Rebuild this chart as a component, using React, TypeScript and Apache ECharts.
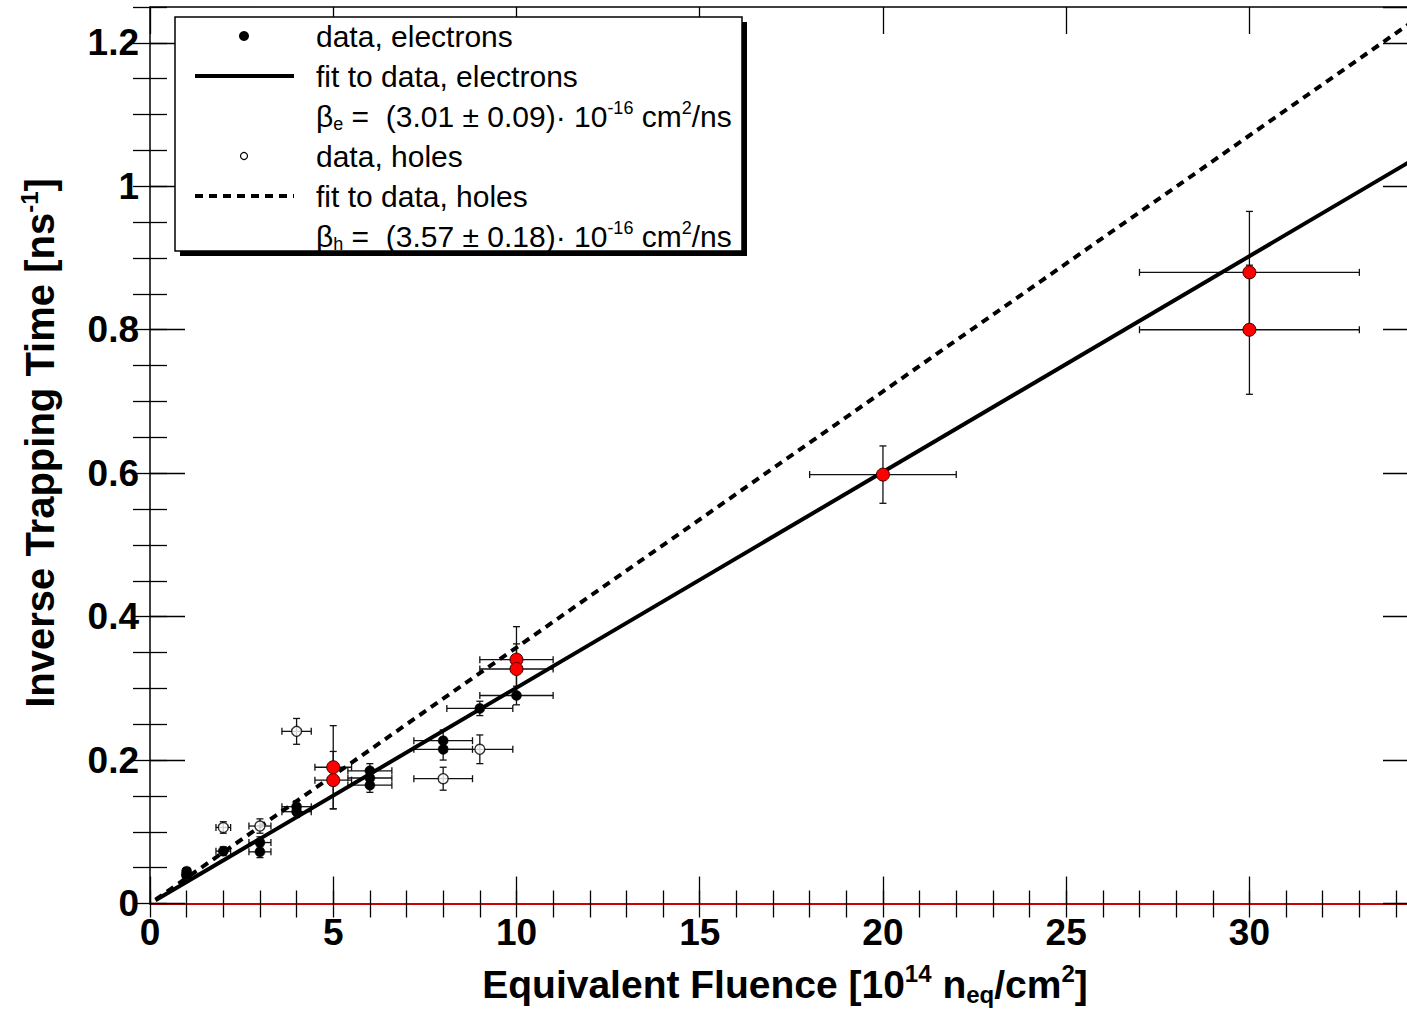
import React, { useEffect, useRef } from "react";
import * as echarts from "echarts";

// ---- data ----
// electrons (filled black)
const elecX = [1, 1, 2, 3, 3, 4, 4, 6, 6, 6, 8, 8, 9, 10];
const elecY = [0.045, 0.04, 0.073, 0.085, 0.072, 0.135, 0.128, 0.185, 0.175, 0.165, 0.227, 0.215, 0.272, 0.29];
const elecEx = [0.1, 0.1, 0.2, 0.3, 0.3, 0.4, 0.4, 0.6, 0.6, 0.6, 0.8, 0.8, 0.9, 1.0];
const elecEy = [0.005, 0.005, 0.006, 0.008, 0.008, 0.008, 0.008, 0.01, 0.01, 0.01, 0.015, 0.015, 0.01, 0.013];
// holes (open circles)
const holeX = [1, 2, 3, 4, 8, 9];
const holeY = [0.04, 0.106, 0.108, 0.24, 0.174, 0.215];
const holeEx = [0.1, 0.2, 0.3, 0.4, 0.8, 0.9];
const holeEy = [0.005, 0.008, 0.01, 0.018, 0.016, 0.02];
// red points
const redX = [5, 5, 10, 10, 20, 30, 30];
const redY = [0.19, 0.172, 0.34, 0.327, 0.598, 0.88, 0.8];
const redEx = [0.5, 0.5, 1, 1, 2, 3, 3];
const redEy = [0.058, 0.04, 0.046, 0.035, 0.04, 0.085, 0.09];
// fit lines (end points)
const fitElecX = [0.15, 34.6];
const fitElecY = [0.0045, 1.041];
const fitHoleX = [0.15, 34.6];
const fitHoleY = [0.0054, 1.235];

const X_MIN = 0;
const X_MAX = 34.6;
const Y_MIN = 0;
const Y_MAX = 1.25;

const FONT = "'Liberation Sans', Arial, Helvetica, sans-serif";

function pairs(xs: number[], ys: number[]) {
  return xs.map((x, i) => [x, ys[i]]);
}

function errorBars(xs: number[], ys: number[], exs: number[], eys: number[]) {
  return {
    type: "custom",
    xAxisIndex: 0,
    yAxisIndex: 0,
    z: 2,
    silent: true,
    clip: false,
    encode: { x: 0, y: 1 },
    data: xs.map((x, i) => [x, ys[i], exs[i], eys[i]]),
    renderItem: (params: any, api: any) => {
      const x = api.value(0);
      const y = api.value(1);
      const ex = api.value(2);
      const ey = api.value(3);
      const c = api.coord([x, y]);
      const l = api.coord([x - ex, y]);
      const r = api.coord([x + ex, y]);
      const t = api.coord([x, y + ey]);
      const b = api.coord([x, y - ey]);
      const cap = 3.5;
      const style = { stroke: "#111", lineWidth: 1.3 };
      return {
        type: "group",
        children: [
          { type: "line", shape: { x1: l[0], y1: c[1], x2: r[0], y2: c[1] }, style },
          { type: "line", shape: { x1: l[0], y1: c[1] - cap, x2: l[0], y2: c[1] + cap }, style },
          { type: "line", shape: { x1: r[0], y1: c[1] - cap, x2: r[0], y2: c[1] + cap }, style },
          { type: "line", shape: { x1: c[0], y1: t[1], x2: c[0], y2: b[1] }, style },
          { type: "line", shape: { x1: c[0] - cap, y1: t[1], x2: c[0] + cap, y2: t[1] }, style },
          { type: "line", shape: { x1: c[0] - cap, y1: b[1], x2: c[0] + cap, y2: b[1] }, style },
        ],
      };
    },
  };
}

const isMult = (v: number, step: number) => Math.abs(v / step - Math.round(v / step)) < 1e-6;

export default function App() {
  const ref = useRef<HTMLDivElement>(null);

  useEffect(() => {
    if (!ref.current) return;
    const chart = echarts.init(ref.current, null, { renderer: "svg" });

    const gridRect = { left: 150, top: 7, width: 1268, height: 896.5 };
    const tickStyle = { color: "#000", width: 1.3 };
    const frame = { show: true, onZero: false, lineStyle: { color: "#000", width: 1.5 } };
    const labelStyle = { fontFamily: FONT, fontWeight: "bold" as const, fontSize: 37, color: "#000" };

    const xBase = { type: "value", min: X_MIN, max: X_MAX, splitLine: { show: false } };
    const yBase = { type: "value", min: Y_MIN, max: Y_MAX, splitLine: { show: false } };

    const rich = {
      n: { fontFamily: FONT, fontSize: 30, color: "#000" },
      sup: { fontFamily: FONT, fontSize: 18, color: "#000", padding: [0, 0, 17, 0] },
      sub: { fontFamily: FONT, fontSize: 18, color: "#000", padding: [15, 0, 0, 0] },
    };
    const richX = {
      n: { fontFamily: FONT, fontSize: 39, fontWeight: "bold", color: "#000" },
      sup: { fontFamily: FONT, fontSize: 24, fontWeight: "bold", color: "#000", padding: [0, 0, 22, 0] },
      sub: { fontFamily: FONT, fontSize: 24, fontWeight: "bold", color: "#000", padding: [20, 0, 0, 0] },
    };
    const richY = {
      n: { fontFamily: FONT, fontSize: 40, fontWeight: "bold", color: "#000" },
      sup: { fontFamily: FONT, fontSize: 24, fontWeight: "bold", color: "#000", padding: [0, 0, 22, 0] },
    };

    const legendTextX = 316;
    const legendMarkX = 244;
    const rows = [36, 76, 116, 156, 196, 236];

    const option: any = {
      animation: false,
      backgroundColor: "#fff",
      grid: [gridRect, gridRect],
      xAxis: [
        {
          ...xBase,
          gridIndex: 0,
          position: "bottom",
          interval: 5,
          axisLine: { show: true, onZero: false, lineStyle: { color: "#d00000", width: 2 } },
          axisTick: { show: true, inside: true, length: 27, lineStyle: tickStyle },
          axisLabel: {
            ...labelStyle,
            margin: 10,
            showMaxLabel: false,
            formatter: (v: number) => (isMult(v, 5) ? String(Math.round(v)) : ""),
          },
        },
        {
          ...xBase,
          gridIndex: 0,
          position: "top",
          interval: 5,
          axisLine: frame,
          axisTick: { show: true, inside: true, length: 27, lineStyle: tickStyle },
          axisLabel: { show: false },
        },
        {
          ...xBase,
          gridIndex: 1,
          position: "bottom",
          interval: 1,
          axisLine: { show: false },
          axisTick: { show: true, inside: true, length: 13, lineStyle: tickStyle },
          axisLabel: { show: false },
        },
        {
          ...xBase,
          gridIndex: 1,
          position: "top",
          interval: 1,
          axisLine: { show: false },
          axisTick: { show: true, inside: true, length: 14, lineStyle: tickStyle },
          axisLabel: { show: false },
        },
      ],
      yAxis: [
        {
          ...yBase,
          gridIndex: 0,
          position: "left",
          interval: 0.2,
          axisLine: frame,
          axisTick: { show: true, inside: true, length: 35, lineStyle: tickStyle },
          axisLabel: {
            ...labelStyle,
            margin: 11,
            showMaxLabel: false,
            formatter: (v: number) => (isMult(v, 0.2) ? String(Math.round(v * 10) / 10) : ""),
          },
        },
        {
          ...yBase,
          gridIndex: 0,
          position: "right",
          interval: 0.2,
          axisLine: frame,
          axisTick: { show: true, inside: true, length: 35, lineStyle: tickStyle },
          axisLabel: { show: false },
        },
        {
          ...yBase,
          gridIndex: 1,
          position: "left",
          interval: 0.05,
          axisLine: { show: false },
          axisTick: { show: true, inside: true, length: 17, lineStyle: tickStyle },
          axisLabel: { show: false },
        },
        {
          ...yBase,
          gridIndex: 1,
          position: "right",
          interval: 0.05,
          axisLine: { show: false },
          axisTick: { show: true, inside: true, length: 17, lineStyle: tickStyle },
          axisLabel: { show: false },
        },
      ],
      series: [
        errorBars(elecX, elecY, elecEx, elecEy),
        errorBars(holeX, holeY, holeEx, holeEy),
        errorBars(redX, redY, redEx, redEy),
        {
          type: "line",
          name: "fit electrons",
          xAxisIndex: 0,
          yAxisIndex: 0,
          data: pairs(fitElecX, fitElecY),
          showSymbol: false,
          z: 3,
          lineStyle: { color: "#000", width: 4, type: "solid" },
          silent: true,
        },
        {
          type: "line",
          name: "fit holes",
          xAxisIndex: 0,
          yAxisIndex: 0,
          data: pairs(fitHoleX, fitHoleY),
          showSymbol: false,
          z: 3,
          lineStyle: { color: "#000", width: 4, type: [8, 6] },
          silent: true,
        },
        {
          type: "scatter",
          name: "holes",
          xAxisIndex: 0,
          yAxisIndex: 0,
          data: pairs(holeX, holeY),
          symbol: "circle",
          symbolSize: 10,
          z: 4,
          itemStyle: { color: "#fff", borderColor: "#000", borderWidth: 1.4 },
        },
        {
          type: "scatter",
          name: "electrons",
          xAxisIndex: 0,
          yAxisIndex: 0,
          data: pairs(elecX, elecY),
          symbol: "circle",
          symbolSize: 10,
          z: 5,
          itemStyle: { color: "#000", borderColor: "#000", borderWidth: 0.5, opacity: 1 },
        },
        {
          type: "scatter",
          name: "red",
          xAxisIndex: 0,
          yAxisIndex: 0,
          data: pairs(redX, redY),
          symbol: "circle",
          symbolSize: 13,
          z: 6,
          itemStyle: { color: "#ff0000", borderColor: "#400000", borderWidth: 1, opacity: 1 },
        },
      ],
      graphic: [
        // axis titles
        {
          type: "text",
          x: 785,
          y: 984,
          z: 100,
          style: {
            text: "{n|Equivalent Fluence [10}{sup|14}{n| n}{sub|eq}{n|/cm}{sup|2}{n|]}",
            rich: richX,
            align: "center",
            verticalAlign: "middle",
          },
        },
        {
          type: "text",
          x: 40,
          y: 443,
          rotation: Math.PI / 2,
          z: 100,
          style: {
            text: "{n|Inverse Trapping Time [ns}{sup|-1}{n|]}",
            rich: richY,
            align: "center",
            verticalAlign: "middle",
          },
        },
        // legend box
        { type: "rect", z: 100, shape: { x: 180, y: 22, width: 567, height: 234 }, style: { fill: "#000" } },
        {
          type: "rect",
          z: 101,
          shape: { x: 175, y: 17, width: 567, height: 234 },
          style: { fill: "#fff", stroke: "#000", lineWidth: 1.5 },
        },
        { type: "circle", z: 102, shape: { cx: legendMarkX, cy: rows[0], r: 5 }, style: { fill: "#000" } },
        {
          type: "line",
          z: 102,
          shape: { x1: 195, y1: rows[1], x2: 294, y2: rows[1] },
          style: { stroke: "#000", lineWidth: 4 },
        },
        {
          type: "circle",
          z: 102,
          shape: { cx: legendMarkX, cy: rows[3], r: 3.5 },
          style: { fill: "#fff", stroke: "#000", lineWidth: 1.2 },
        },
        {
          type: "line",
          z: 102,
          shape: { x1: 195, y1: rows[4], x2: 294, y2: rows[4] },
          style: { stroke: "#000", lineWidth: 4, lineDash: [8, 6] },
        },
        ...[
          "{n|data, electrons}",
          "{n|fit to data, electrons}",
          "{n|β}{sub|e}{n| =  (3.01 ± 0.09)· 10}{sup|-16}{n| cm}{sup|2}{n|/ns}",
          "{n|data, holes}",
          "{n|fit to data, holes}",
          "{n|β}{sub|h}{n| =  (3.57 ± 0.18)· 10}{sup|-16}{n| cm}{sup|2}{n|/ns}",
        ].map((t, i) => ({
          type: "text",
          z: 102,
          x: legendTextX,
          y: rows[i],
          style: { text: t, rich, align: "left", verticalAlign: "middle" },
        })),
      ],
    };

    chart.setOption(option);
    return () => chart.dispose();
  }, []);

  return (
    <div
      ref={ref}
      style={{ position: "fixed", left: 0, top: 0, width: 1420, height: 1010, background: "#fff" }}
    />
  );
}
